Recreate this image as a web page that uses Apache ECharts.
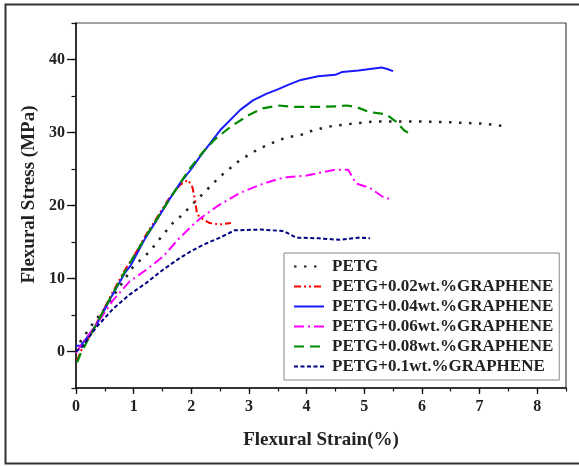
<!DOCTYPE html>
<html>
<head>
<meta charset="utf-8">
<script src="https://cdn.jsdelivr.net/npm/echarts@6/dist/echarts.min.js"></script>
<style>
html,body{margin:0;padding:0;background:#fff;}
#c{width:579px;height:466px;}
</style>
</head>
<body>
<div id="c"></div>
<script>
var seriesNames = ['PETG','PETG+0.02wt.%GRAPHENE','PETG+0.04wt.%GRAPHENE','PETG+0.06wt.%GRAPHENE','PETG+0.08wt.%GRAPHENE','PETG+0.1wt.%GRAPHENE'];
var xTickLabels = [0,1,2,3,4,5,6,7,8];
var yTickLabels = [0,10,20,30,40];

var petg = [[0,0],[0.08,1.4],[0.3,3.9],[0.5,5.9],[0.7,8.2],[0.99,11.6],[1.28,13.7],[1.51,16.0],[1.68,17.6],[1.8,18.4],[2.15,21.2],[2.49,23.9],[2.84,26.2],[3.18,27.8],[3.53,29.0],[3.7,29.4],[3.88,29.6],[4.11,30.3],[4.45,30.9],[4.8,31.2],[5.14,31.5],[5.6,31.5],[6.0,31.5],[6.5,31.4],[7.1,31.2],[7.4,30.9]];
var g002 = [[0.02,-1.2],[0.08,0],[0.3,3.0],[0.6,7.6],[0.85,11.2],[1.0,13.0],[1.2,15.8],[1.4,18.3],[1.6,20.8],[1.8,22.8],[1.94,23.5],[2.02,22.5],[2.07,20.5],[2.1,18.8],[2.2,18.1],[2.32,17.6],[2.49,17.4],[2.69,17.6]];
var g004 = [[0,0.8],[0.08,0.8],[0.18,1.8],[0.35,3.6],[0.6,7.3],[0.85,10.8],[0.95,11.8],[1.2,15.5],[1.4,18.0],[1.6,20.6],[1.8,23.0],[2.0,25.0],[2.15,26.7],[2.5,30.3],[2.85,33.1],[3.07,34.4],[3.3,35.3],[3.5,35.9],[3.7,36.6],[3.9,37.2],[4.2,37.7],[4.5,37.9],[4.62,38.3],[4.9,38.5],[5.3,38.9],[5.4,38.7],[5.5,38.4]];
var g006 = [[0,-0.2],[0.1,1.0],[0.24,2.5],[0.45,4.8],[0.65,7.1],[0.93,9.6],[1.22,11.2],[1.51,13.0],[1.8,15.6],[2.05,17.5],[2.15,18.2],[2.45,19.9],[2.84,21.7],[3.18,22.8],[3.53,23.7],[3.7,23.9],[4.0,24.1],[4.3,24.6],[4.5,24.9],[4.72,24.9],[4.86,23.0],[5.1,22.4],[5.32,21.2],[5.49,20.8]];
var g008 = [[0.02,-1.5],[0.08,-0.3],[0.2,1.5],[0.35,3.7],[0.6,7.4],[0.85,11.0],[1.0,13.0],[1.2,15.6],[1.4,18.1],[1.6,20.6],[1.8,23.0],[1.97,25.0],[2.2,27.3],[2.4,29.0],[2.7,30.9],[3.0,32.4],[3.24,33.3],[3.5,33.7],[3.82,33.5],[4.22,33.5],[4.57,33.6],[4.7,33.7],[4.86,33.5],[5.09,32.8],[5.38,32.5],[5.55,31.5],[5.69,30.3],[5.84,29.6]];
var g010 = [[0,0],[0.1,0.6],[0.36,3.4],[0.65,5.9],[0.93,7.8],[1.22,9.4],[1.51,11.2],[1.8,12.8],[2.03,13.9],[2.26,14.8],[2.5,15.6],[2.75,16.6],[3.2,16.7],[3.6,16.5],[3.7,16.1],[3.82,15.6],[4.22,15.5],[4.57,15.3],[4.9,15.6],[5.1,15.5]];

var allData = [petg, g002, g004, g006, g008, g010];
var colors = ['#222222','#ff0000','#1a1aff','#ff00ff','#008a00','#000080'];
var dashes = [[2.5,7.5],[7,3,2,3,2,3],'solid',[10,4,2,4],[10,6],[4,2.5]];
var widths = [2.5,2,2,2,2.2,2];

var font = 'Liberation Serif';
var chart = echarts.init(document.getElementById('c'), null, {renderer:'canvas'});

var series = allData.map(function(d,i){
  return {
    name: seriesNames[i], type:'line', data:d, symbol:'none', showSymbol:false, smooth:false,
    xAxisIndex:0, yAxisIndex:0,
    lineStyle:{color:colors[i], width:widths[i], type:dashes[i]},
    itemStyle:{color:colors[i]}
  };
});

var baseX = {type:'value', min:0, max:8.5, position:'bottom', gridIndex:0};
var baseY = {type:'value', min:-5, max:45, position:'left', gridIndex:0};

chart.setOption({
  animation:false,
  backgroundColor:'#fff',
  grid:{left:76, right:13, top:23, bottom:78, show:true, borderColor:'#444', borderWidth:1.2, backgroundColor:'transparent'},
  xAxis:[
    Object.assign({}, baseX, {
      interval:1,
      axisLine:{show:true, onZero:false, lineStyle:{color:'#111', width:1.5}},
      axisTick:{show:true, length:6, customValues:xTickLabels, lineStyle:{color:'#111', width:1.3}},
      axisLabel:{show:true, customValues:xTickLabels, margin:11, fontFamily:font, fontWeight:'bold', fontSize:16, color:'#222'},
      splitLine:{show:false},
      name:'Flexural Strain(%)', nameLocation:'middle', nameGap:43,
      nameTextStyle:{fontFamily:font, fontWeight:'bold', fontSize:19, color:'#222'}
    }),
    Object.assign({}, baseX, {
      interval:0.5,
      axisLine:{show:false, onZero:false},
      axisTick:{show:true, length:3.5, lineStyle:{color:'#111', width:1.2}},
      axisLabel:{show:false},
      splitLine:{show:false}
    })
  ],
  yAxis:[
    Object.assign({}, baseY, {
      interval:10,
      axisLine:{show:true, onZero:false, lineStyle:{color:'#111', width:1.5}},
      axisTick:{show:true, length:9, customValues:yTickLabels, lineStyle:{color:'#111', width:1.3}},
      axisLabel:{show:true, customValues:yTickLabels, margin:11, fontFamily:font, fontWeight:'bold', fontSize:16, color:'#222'},
      splitLine:{show:false},
      name:'Flexural Stress (MPa)', nameLocation:'middle', nameGap:30,
      nameTextStyle:{fontFamily:font, fontWeight:'bold', fontSize:19, color:'#222', padding:[0,0,0,22]}
    }),
    Object.assign({}, baseY, {
      interval:5,
      axisLine:{show:false, onZero:false},
      axisTick:{show:true, length:4.5, lineStyle:{color:'#111', width:1.2}},
      axisLabel:{show:false},
      splitLine:{show:false}
    })
  ],
  legend:{
    data:seriesNames, orient:'vertical', left:284, top:253,
    padding:[5,6,5,9], itemGap:3, itemWidth:30, itemHeight:14,
    borderColor:'#888', borderWidth:1, backgroundColor:'#fff',
    itemStyle:{opacity:0},
    textStyle:{fontFamily:font, fontWeight:'bold', fontSize:17, lineHeight:17, color:'#222', padding:[0,0,0,3]}
  },
  graphic:[{
    type:'polyline', silent:true,
    shape:{points:[[579,4.5],[5.5,4.5],[5.5,463.5],[579,463.5]]},
    style:{stroke:'#333', lineWidth:2, fill:null}
  }],
  series:series
});
</script>
</body>
</html>
